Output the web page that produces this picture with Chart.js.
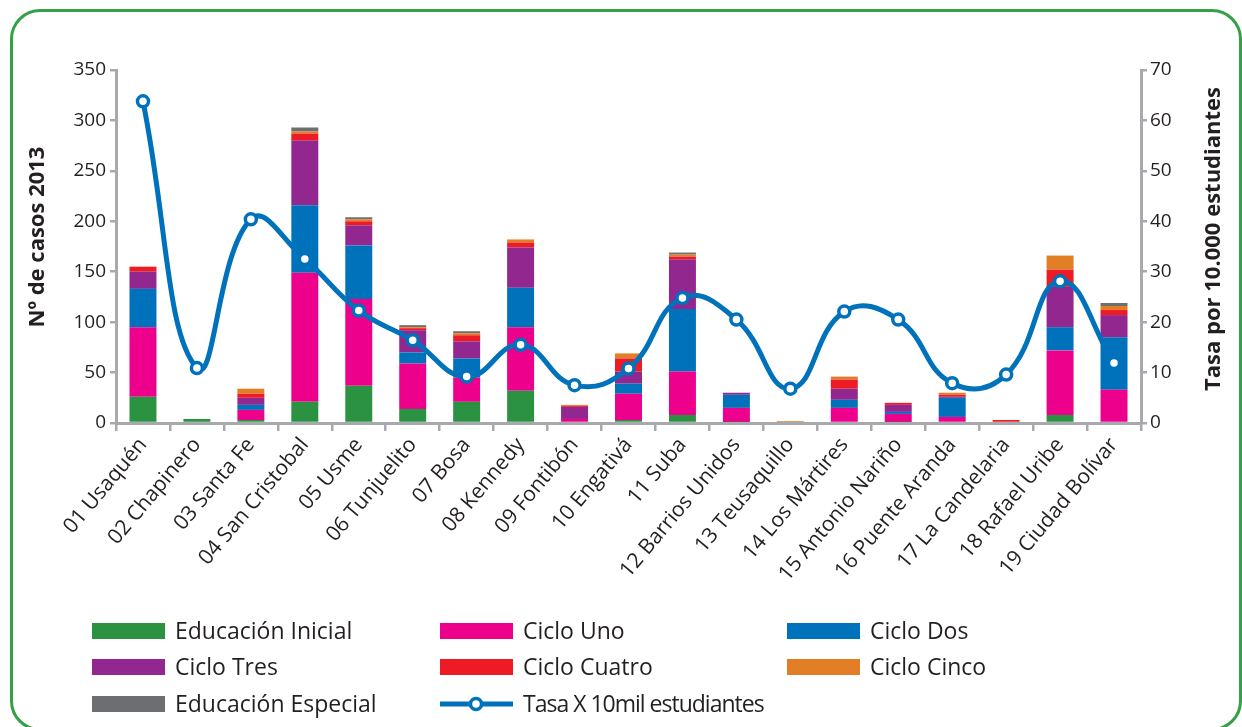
<!DOCTYPE html>
<html lang="es">
<head>
<meta charset="utf-8">
<title>Casos 2013 por localidad</title>
<script src="https://cdn.jsdelivr.net/npm/chart.js@4.4.1/dist/chart.umd.min.js"></script>
<style>
  html, body { margin: 0; padding: 0; background: #ffffff; overflow: hidden; }
  #wrap { position: relative; width: 1242px; height: 727px; }
  #frame {
    position: absolute; left: 10px; top: 9px; width: 1226px; height: 716px;
    border: 3px solid #35a046; border-radius: 30px; pointer-events: none;
  }
  canvas { position: absolute; left: 0; top: 0; }
</style>
</head>
<body>
<div id="wrap">
  <canvas id="chart" width="1242" height="727"></canvas>
  <div id="frame"></div>
</div>
<script>
// Localidades
const categories = [
  '01 Usaquén', '02 Chapinero', '03 Santa Fe', '04 San Cristobal', '05 Usme',
  '06 Tunjuelito', '07 Bosa', '08 Kennedy', '09 Fontibón', '10 Engativá',
  '11 Suba', '12 Barrios Unidos', '13 Teusaquillo', '14 Los Mártires',
  '15 Antonio Nariño', '16 Puente Aranda', '17 La Candelaria',
  '18 Rafael Uribe', '19 Ciudad Bolívar'
];

// Nº de casos 2013 por nivel educativo
const educacionInicial  = [26, 4, 3, 21, 37, 14, 21, 32, 0, 3, 8, 1, 0, 0, 1, 0, 0, 8, 0];
const cicloUno          = [69, 0, 10, 128, 86, 45, 24, 63, 4, 26, 43, 14, 0, 15, 8, 6, 0, 64, 33];
const cicloDos          = [38, 0, 5, 67, 53, 11, 19, 39, 0, 10, 62, 13, 0, 8, 2, 19, 0, 23, 52];
const cicloTres         = [17, 0, 7, 64, 20, 22, 17, 40, 12, 12, 49, 2, 0, 11, 7, 1, 0, 40, 22];
const cicloCuatro       = [5, 0, 4, 7, 4, 2, 6, 5, 1, 13, 3, 0, 0, 9, 2, 2, 3, 17, 5];
const cicloCinco        = [0, 0, 5, 2, 2, 1, 2, 3, 1, 5, 2, 0, 2, 3, 0, 2, 0, 14, 4];
const educacionEspecial = [0, 0, 0, 4, 2, 2, 2, 0, 0, 0, 2, 0, 0, 0, 0, 0, 0, 0, 3];

// Tasa por 10.000 estudiantes
const tasa = [63.8, 10.9, 40.4, 32.5, 22.3, 16.4, 9.2, 15.5, 7.5, 10.8, 24.8, 20.5, 6.8, 22.1, 20.5, 7.9, 9.6, 28.1, 11.9];

// Escalas
const casosTicks = { min: 0, max: 350, step: 50 };
const tasaTicks  = { min: 0, max: 70, step: 10 };

const FONT = '"Open Sans", "Noto Sans", sans-serif';
const TEXT = '#231f20';
const AXIS = '#a7a9ac';

const colors = {
  inicial: '#2a9240',
  uno: '#ec008c',
  dos: '#0072bc',
  tres: '#92278f',
  cuatro: '#ed1c24',
  cinco: '#e17e26',
  especial: '#6d6e71',
  tasa: '#0072bc'
};

const barSeries = [
  { label: 'Educación Inicial',  data: educacionInicial,  color: colors.inicial },
  { label: 'Ciclo Uno',          data: cicloUno,          color: colors.uno },
  { label: 'Ciclo Dos',          data: cicloDos,          color: colors.dos },
  { label: 'Ciclo Tres',         data: cicloTres,         color: colors.tres },
  { label: 'Ciclo Cuatro',       data: cicloCuatro,       color: colors.cuatro },
  { label: 'Ciclo Cinco',        data: cicloCinco,        color: colors.cinco },
  { label: 'Educación Especial', data: educacionEspecial, color: colors.especial }
];

const datasets = barSeries.map(s => ({
  type: 'bar',
  label: s.label,
  data: s.data,
  backgroundColor: s.color,
  borderWidth: 0,
  yAxisID: 'y',
  stack: 'casos',
  categoryPercentage: 1.0,
  barPercentage: 0.5,
  order: 2
}));

datasets.push({
  type: 'line',
  label: 'Tasa X 10mil estudiantes',
  data: tasa,
  yAxisID: 'y1',
  borderColor: colors.tasa,
  borderWidth: 5,
  tension: 0.45,
  pointRadius: 5.5,
  pointBorderWidth: 3.5,
  pointBackgroundColor: '#ffffff',
  pointBorderColor: colors.tasa,
  fill: false,
  clip: false,
  order: 0
});

// Legend in three columns at the bottom, plus the two vertical axis titles
const decorations = {
  id: 'decorations',
  afterDraw(chart) {
    const ctx = chart.ctx;
    ctx.save();

    // axis titles
    ctx.fillStyle = TEXT;
    ctx.font = 'bold 22px ' + FONT;
    ctx.textAlign = 'center';
    ctx.textBaseline = 'middle';
    ctx.save();
    ctx.translate(38, 237);
    ctx.rotate(-Math.PI / 2);
    ctx.fillText('Nº de casos 2013', 0, 0);
    ctx.restore();
    ctx.save();
    ctx.translate(1214, 239);
    ctx.rotate(-Math.PI / 2);
    ctx.fillText('Tasa por 10.000 estudiantes', 0, 0);
    ctx.restore();

    // legend
    const colX = [92, 440, 787];
    const rowY = [631, 667, 704];
    ctx.font = '23px ' + FONT;
    ctx.textAlign = 'left';
    ctx.textBaseline = 'middle';
    chart.data.datasets.forEach((ds, k) => {
      const x = colX[k % 3];
      const y = rowY[Math.floor(k / 3)];
      if (ds.type === 'line') {
        ctx.strokeStyle = ds.borderColor;
        ctx.lineWidth = 5;
        ctx.beginPath();
        ctx.moveTo(x, y);
        ctx.lineTo(x + 73, y);
        ctx.stroke();
        ctx.beginPath();
        ctx.arc(x + 36, y, 5.5, 0, Math.PI * 2);
        ctx.fillStyle = '#ffffff';
        ctx.fill();
        ctx.lineWidth = 3.5;
        ctx.stroke();
        ctx.letterSpacing = '-1px';
      } else {
        ctx.fillStyle = ds.backgroundColor;
        ctx.fillRect(x, y - 8, 73, 16);
        ctx.letterSpacing = '0px';
      }
      ctx.fillStyle = TEXT;
      ctx.fillText(ds.label, x + 83, y + 1);
    });
    ctx.restore();
  }
};

new Chart(document.getElementById('chart'), {
  type: 'bar',
  data: { labels: categories, datasets },
  options: {
    responsive: false,
    devicePixelRatio: 1,
    animation: false,
    layout: { padding: { top: 70, left: 0, right: 0, bottom: 0 } },
    plugins: {
      legend: { display: false },
      tooltip: { enabled: false }
    },
    scales: {
      x: {
        stacked: true,
        grid: {
          offset: true,
          drawOnChartArea: false,
          drawTicks: true,
          tickLength: 8,
          color: AXIS,
          lineWidth: 2.5
        },
        border: { display: true, color: AXIS, width: 3 },
        ticks: {
          autoSkip: false,
          maxRotation: 50,
          minRotation: 50,
          padding: 2,
          color: TEXT,
          font: { family: FONT, size: 21 }
        },
        afterFit(scale) { scale.height = 304; }
      },
      y: {
        position: 'left',
        stacked: true,
        min: casosTicks.min,
        max: casosTicks.max,
        grid: {
          drawOnChartArea: false,
          drawTicks: true,
          tickLength: 6,
          color: AXIS,
          lineWidth: 2.5
        },
        border: { display: true, color: AXIS, width: 3 },
        ticks: {
          stepSize: casosTicks.step,
          padding: 4,
          color: TEXT,
          font: { family: FONT, size: 19 }
        },
        afterFit(scale) { scale.width = 116; }
      },
      y1: {
        position: 'right',
        stacked: false,
        min: tasaTicks.min,
        max: tasaTicks.max,
        grid: {
          drawOnChartArea: false,
          drawTicks: true,
          tickLength: 6,
          color: AXIS,
          lineWidth: 2.5
        },
        border: { display: true, color: AXIS, width: 3 },
        ticks: {
          stepSize: tasaTicks.step,
          padding: 3,
          color: TEXT,
          font: { family: FONT, size: 19 }
        },
        afterFit(scale) { scale.width = 101; }
      }
    }
  },
  plugins: [decorations]
});
</script>
</body>
</html>
